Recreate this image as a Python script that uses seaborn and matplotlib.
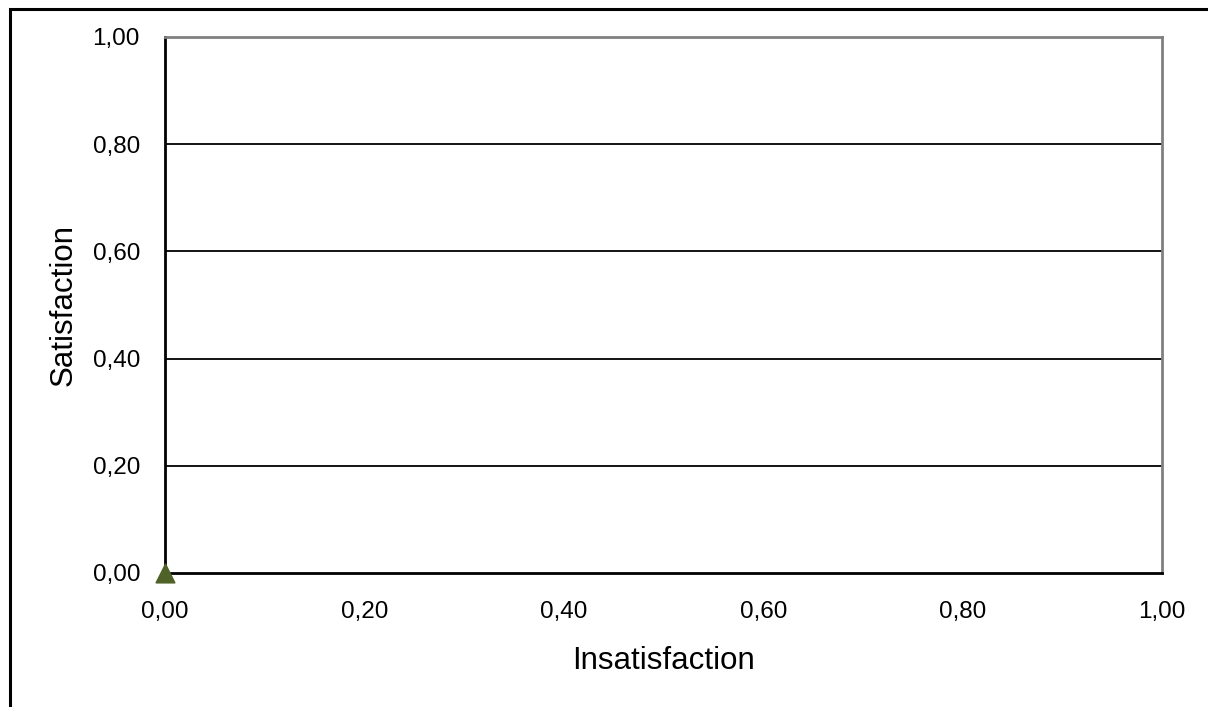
import numpy as np
import pandas as pd
import matplotlib
matplotlib.use("Agg")
import matplotlib.pyplot as plt
import seaborn as sns
from matplotlib.patches import Rectangle
from matplotlib.ticker import FuncFormatter

# data
insatisfaction = [0.0]
satisfaction = [0.0]
tick_values = [0.0, 0.2, 0.4, 0.6, 0.8, 1.0]

df = pd.DataFrame({"Insatisfaction": insatisfaction, "Satisfaction": satisfaction})

sns.set_style("white")
plt.rcParams["font.family"] = ["Liberation Sans", "DejaVu Sans"]

fig = plt.figure(figsize=(12.08, 7.07), dpi=100)
ax = fig.add_axes([165 / 1208, 1 - 573 / 707, (1162 - 165) / 1208, (573 - 37) / 707])

# outer chart border (cropped)
fig.patches.append(Rectangle((10 / 1208, -0.1), 1.2, 1 - 9 / 707 + 0.1,
                             transform=fig.transFigure, fill=False,
                             edgecolor="black", linewidth=2.2))

for y in tick_values[1:-1]:
    ax.axhline(y, color="black", linewidth=1.3, zorder=1)

sns.scatterplot(data=df, x="Insatisfaction", y="Satisfaction", ax=ax,
                marker="^", s=180, color="#4F6228", edgecolor="#4F6228",
                legend=False, zorder=5, clip_on=False)

ax.set_xlim(0, 1)
ax.set_ylim(0, 1)
ax.set_xticks(tick_values)
ax.set_yticks(tick_values)
fmt = FuncFormatter(lambda v, p: f"{v:.2f}".replace(".", ","))
ax.xaxis.set_major_formatter(fmt)
ax.yaxis.set_major_formatter(fmt)
ax.tick_params(axis="both", length=0, labelsize=17.5, colors="black")
ax.tick_params(axis="y", pad=18)
ax.tick_params(axis="x", pad=20)

ax.spines["left"].set_color("black")
ax.spines["bottom"].set_color("black")
ax.spines["left"].set_linewidth(2)
ax.spines["bottom"].set_linewidth(2)
ax.spines["top"].set_color("#808080")
ax.spines["right"].set_color("#808080")
ax.spines["top"].set_linewidth(2)
ax.spines["right"].set_linewidth(2)

ax.set_xlabel("Insatisfaction", fontsize=22.5, labelpad=17, color="black")
ax.set_ylabel("Satisfaction", fontsize=22.5, labelpad=10, color="black")

fig.savefig("out.png", dpi=100)
